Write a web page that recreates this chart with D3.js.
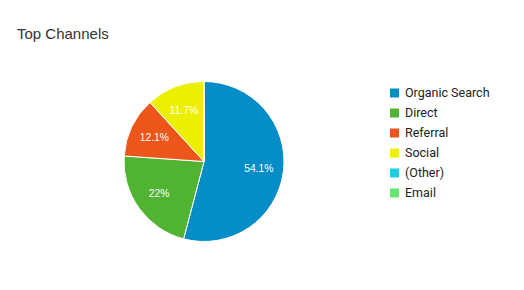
<!DOCTYPE html>
<html>
<head>
  <meta charset="utf-8">
  <style>
    html, body {
      margin: 0;
      padding: 0;
      background: #fff;
      width: 524px;
      height: 290px;
      overflow: hidden;
    }
    svg { display: block; }
    .title { font-family: "Liberation Sans", Arial, sans-serif; font-size: 15px; fill: #333; }
    .legend text { font-family: Roboto, sans-serif; font-size: 12.5px; fill: #222; }
    .slice-label { font-family: "Liberation Sans", Arial, sans-serif; font-size: 10.3px; fill: #fff; }
  </style>
</head>
<body>
  <svg width="524" height="290"></svg>
  <script src="https://d3js.org/d3.v7.min.js"></script>
  <script>
    const channels = ["Organic Search", "Direct", "Referral", "Social", "(Other)", "Email"];
    const shares = [54.1, 22, 12.1, 11.7, 0.06, 0.04];
    const labels = ["54.1%", "22%", "12.1%", "11.7%", "", ""];
    const colors = ["#058dc7", "#50b432", "#ed561b", "#edef00", "#24cbe5", "#64e572"];

    const svg = d3.select("svg");
    const cx = 204, cy = 161.5, r = 80;

    svg.append("text")
      .attr("class", "title")
      .attr("x", 17)
      .attr("y", 39)
      .text("Top Channels");

    const data = channels.map((c, i) => ({ name: c, value: shares[i], label: labels[i], color: colors[i] }));

    const pie = d3.pie().value(d => d.value).sort(null);
    const arc = d3.arc().innerRadius(0).outerRadius(r);
    const labelArc = d3.arc().innerRadius(r * 0.69).outerRadius(r * 0.69);

    const g = svg.append("g").attr("transform", `translate(${cx},${cy})`);
    const arcs = pie(data);

    g.selectAll("path")
      .data(arcs)
      .join("path")
      .attr("d", arc)
      .attr("fill", d => d.data.color)
      .attr("stroke", "#fff")
      .attr("stroke-width", 1);

    g.selectAll("text")
      .data(arcs)
      .join("text")
      .attr("class", "slice-label")
      .attr("transform", d => `translate(${labelArc.centroid(d)})`)
      .attr("text-anchor", "middle")
      .attr("dy", "0.35em")
      .text(d => d.data.label);

    const y = d3.scaleBand().domain(channels).range([83, 203]);

    const legend = svg.append("g").attr("class", "legend")
      .selectAll("g")
      .data(data)
      .join("g")
      .attr("transform", d => `translate(390,${y(d.name)})`);

    legend.append("rect")
      .attr("y", 5.5)
      .attr("width", 9)
      .attr("height", 9)
      .attr("fill", d => d.color);

    legend.append("text")
      .attr("x", 15)
      .attr("y", 10)
      .attr("dy", "0.35em")
      .text(d => d.name);
  </script>
</body>
</html>
